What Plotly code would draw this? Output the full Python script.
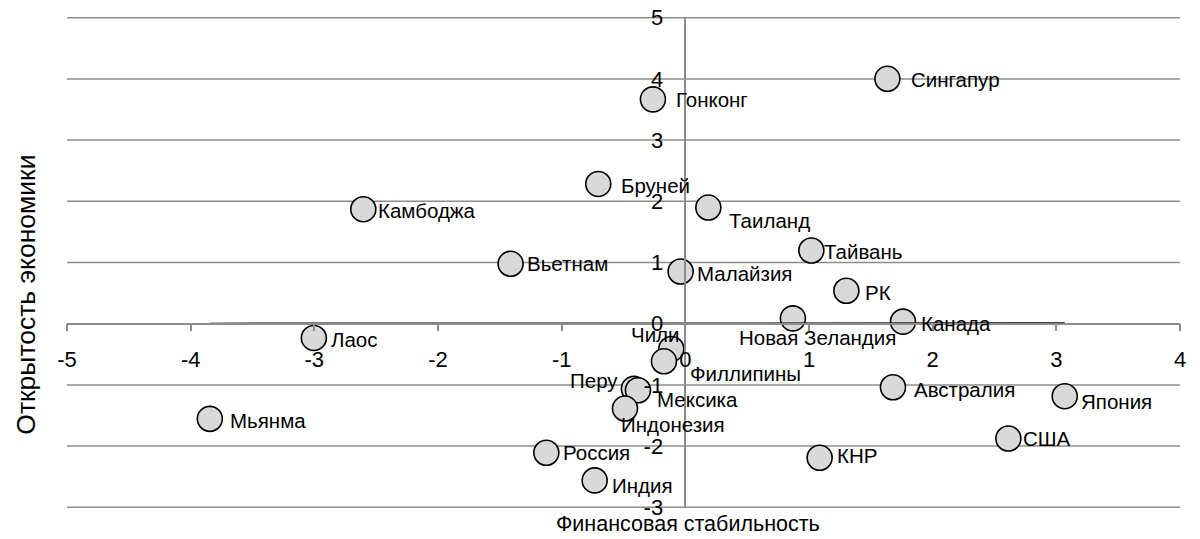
import numpy as np
import plotly.graph_objects as go

# ---------------- data ----------------
countries = ["Сингапур", "Гонконг", "Бруней", "Таиланд", "Камбоджа", "Тайвань",
             "Вьетнам", "Малайзия", "РК", "Новая Зеландия", "Канада", "Лаос",
             "Чили", "Филлипины", "Перу", "Мексика", "Австралия", "Япония",
             "Индонезия", "Мьянма", "США", "Россия", "КНР", "Индия"]
fin_stability = [1.634, -0.262, -0.704, 0.186, -2.604, 1.019,
                 -1.413, -0.038, 1.302, 0.870, 1.760, -3.004,
                 -0.113, -0.173, -0.416, -0.383, 1.679, 3.068,
                 -0.488, -3.845, 2.612, -1.124, 1.086, -0.733]
openness = [4.002, 3.666, 2.284, 1.898, 1.871, 1.196,
            0.979, 0.853, 0.538, 0.087, 0.033, -0.233,
            -0.413, -0.615, -1.065, -1.088, -1.039, -1.185,
            -1.387, -1.555, -1.876, -2.109, -2.191, -2.561]
x_ticks = [-5, -4, -3, -2, -1, 0, 1, 2, 3, 4]
y_ticks = [-3, -2, -1, 0, 1, 2, 3, 4, 5]
x_title = "Финансовая стабильность"
y_title = "Открытость экономики"

# ---------------- styles ----------------
FONT = "Liberation Sans, Arial, sans-serif"
GRID = "#8c8c8c"
X_RANGE = [-5, 4]
Y_RANGE = [-3.012, 5.012]
# label placement: (xanchor, dx px, dy px downward)
label_style = {
    "Сингапур": ("left", 22, 1), "Гонконг": ("left", 21, 0), "Бруней": ("left", 21, 2),
    "Таиланд": ("left", 19, 13), "Камбоджа": ("left", 13, 1), "Тайвань": ("left", 11, 1),
    "Вьетнам": ("left", 14, 0), "Малайзия": ("left", 14, 2), "РК": ("left", 17, 2),
    "Новая Зеландия": ("center", 25, 19), "Канада": ("left", 16, 2), "Лаос": ("left", 15, 2),
    "Чили": ("center", -16, -14), "Филлипины": ("left", 24, 12), "Перу": ("right", -14, -8),
    "Мексика": ("left", 17, 9), "Австралия": ("left", 19, 2), "Япония": ("left", 14, 5),
    "Индонезия": ("left", -6, 16), "Мьянма": ("left", 18, 2), "США": ("left", 13, 0),
    "Россия": ("left", 15, 0), "КНР": ("left", 15, -2), "Индия": ("left", 15, 5),
}

xs = np.array(fin_stability)
ys = np.array(openness)

fig = go.Figure()

# horizontal gridlines at every y tick
for yv in y_ticks:
    fig.add_shape(type="line", xref="paper", x0=0, x1=1, yref="y", y0=yv, y1=yv,
                  line=dict(color=GRID, width=1.5), layer="below")

fig.add_trace(go.Scatter(
    x=fin_stability, y=openness, mode="markers",
    marker=dict(size=25, color="#d9d9d9", line=dict(color="black", width=1.6)),
    hoverinfo="text", text=countries, showlegend=False,
))

# linear trend line across the data range
slope, intercept = np.polyfit(xs, ys, 1)
tx = np.array([xs.min(), xs.max()])
fig.add_trace(go.Scatter(
    x=tx, y=slope * tx + intercept, mode="lines",
    line=dict(color="black", width=2), hoverinfo="skip", showlegend=False,
))

for name, xv, yv in zip(countries, fin_stability, openness):
    anc, dx, dy = label_style[name]
    fig.add_annotation(x=xv, y=yv, text=name, showarrow=False,
                       xanchor=anc, yanchor="middle", xshift=dx, yshift=-dy,
                       font=dict(family=FONT, size=20.5, color="black"))

x_pos = (0 - Y_RANGE[0]) / (Y_RANGE[1] - Y_RANGE[0])
y_pos = (0 - X_RANGE[0]) / (X_RANGE[1] - X_RANGE[0])

fig.update_xaxes(
    range=X_RANGE, tickvals=x_ticks, ticktext=[str(v) for v in x_ticks],
    showgrid=False, zeroline=False, showline=True, linecolor=GRID, linewidth=1.5,
    ticks="outside", ticklen=7, tickwidth=1.5, tickcolor=GRID,
    anchor="free", position=x_pos, ticklabelstandoff=9, automargin=False,
    ticklabeloverflow="allow",
    tickfont=dict(family=FONT, size=22, color="black"), fixedrange=True,
)
fig.update_yaxes(
    range=Y_RANGE, tickvals=y_ticks, ticktext=[str(v) for v in y_ticks],
    showgrid=False, zeroline=False,
    showline=True, linecolor=GRID, linewidth=1.5, ticks="",
    anchor="free", position=y_pos, ticklabelstandoff=17, automargin=False,
    ticklabeloverflow="allow",
    tickfont=dict(family=FONT, size=22, color="black"), fixedrange=True,
)

fig.add_annotation(text=x_title, xref="paper", yref="paper", x=0.558, y=-0.033,
                   xanchor="center", yanchor="middle", showarrow=False,
                   font=dict(family=FONT, size=21.5, color="black"))
fig.add_annotation(text=y_title, xref="paper", yref="paper", x=-0.037, y=0.434,
                   xanchor="center", yanchor="middle", showarrow=False, textangle=-90,
                   font=dict(family=FONT, size=26.5, color="black"))

fig.update_layout(
    width=1192, height=531,
    margin=dict(l=59, r=20, t=9, b=31),
    paper_bgcolor="white", plot_bgcolor="white",
    showlegend=False,
)

fig.write_html("out.html")
